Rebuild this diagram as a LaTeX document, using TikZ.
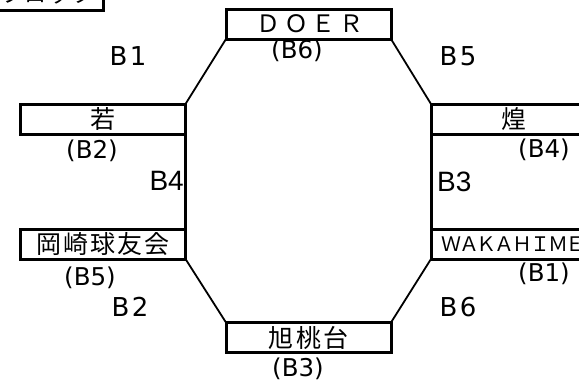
\documentclass[tikz,border=0pt]{standalone}
\usepackage{fontspec}
\setmainfont{DejaVu Sans}
\newfontfamily\jpk[LetterSpace=9]{Noto Sans CJK JP}
\newfontfamily\jpdoer[LetterSpace=16]{Noto Sans CJK JP}
\newfontfamily\jpwaka[LetterSpace=-11]{Noto Sans CJK JP}
\newfontfamily\blab[LetterSpace=10]{DejaVu Sans}
\newfontfamily\slab{Liberation Sans}

\begin{document}
\begin{tikzpicture}[x=1pt,y=-1pt,
    team/.style={rectangle,draw,fill=white,line width=3pt,minimum width=165pt,minimum height=30pt,inner sep=0pt,outer sep=0pt},
    blk/.style={inner sep=0pt,font=\blab\fontsize{26}{26}\selectfont},
    side/.style={inner sep=0pt,font=\slab\fontsize{28}{28}\selectfont},
    seed/.style={inner sep=0pt,font=\fontsize{24.5}{24.5}\selectfont},
    link/.style={line width=1.8pt},
    post/.style={line width=3pt}]
        \fill[white] (0,0) rectangle (579,381);
        \useasboundingbox (0,0) rectangle (579,381);

        \node[team,minimum width=110pt,minimum height=32pt,anchor=south east] at (103,10) (block) {\jpk\fontsize{22}{22}\selectfont ブロック};

        \node[team] at (308.5,24) (doer) {\jpdoer\fontsize{24}{24}\selectfont \kern3pt ＤＯＥＲ};
        \node[team] at (103,119) (waka) {\jpk\fontsize{25}{25}\selectfont 若};
        \node[team] at (103,244) (okazaki) {\jpk\fontsize{25}{25}\selectfont 岡崎球友会};
        \node[team] at (513.5,119) (kou) {\jpk\fontsize{25}{25}\selectfont 煌};
        \node[team] at (513.5,244) (wakahime) {\jpwaka\fontsize{20}{20}\selectfont ＷＡＫＡＨＩＭＥ};
        \node[team] at (308.5,337.5) (asahi) {\jpk\fontsize{25}{25}\selectfont 旭桃台};

        \draw[link] (waka.north east) -- (doer.south west);
        \draw[link] (doer.south east) -- (kou.north west);
        \draw[link] (okazaki.south east) -- (asahi.north west);
        \draw[link] (wakahime.south west) -- (asahi.north east);
        \draw[post] (waka.south east) -- (okazaki.north east);
        \draw[post] (kou.south west) -- (wakahime.north west);

        \node[blk] at (128,56) (b1) {B1};
        \node[blk] at (458,56) (b5) {B5};
        \node[blk] at (130,307) (b2) {B2};
        \node[blk] at (458,307) (b6) {B6};
        \node[side,anchor=east] at (184,181) (b4) {B4};
        \node[side,anchor=west] at (437,182) (b3) {B3};

        \node[seed] at (297,51) (s6) {(B6)};
        \node[seed] at (92,151) (s2) {(B2)};
        \node[seed] at (544,150) (s4) {(B4)};
        \node[seed] at (90,278) (s5) {(B5)};
        \node[seed] at (544,274) (s1) {(B1)};
        \node[seed] at (298,368.5) (s3) {(B3)};
    \end{tikzpicture}
\end{document}
